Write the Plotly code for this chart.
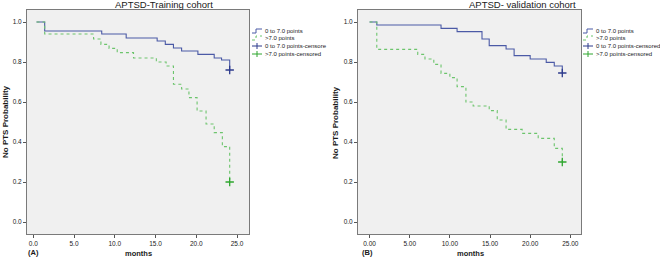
import plotly.graph_objects as go

# ---------------- data ----------------
train_low_t = [0.4, 1.4, 8.4, 11.4, 15.2, 16.2, 17.2, 18.2, 20.2, 22.2, 23.1, 24.1]
train_low_s = [1.0, 0.955, 0.94, 0.92, 0.905, 0.888, 0.87, 0.855, 0.838, 0.82, 0.81, 0.76]
train_high_t = [0.4, 1.4, 7.4, 8.3, 9.3, 10.3, 12.3, 15.1, 16.3, 17.2, 18.2, 19.1, 20.1, 21.2, 22.2, 23.2, 24.1]
train_high_s = [1.0, 0.94, 0.915, 0.888, 0.868, 0.847, 0.82, 0.80, 0.78, 0.689, 0.665, 0.622, 0.555, 0.49, 0.447, 0.377, 0.2]

valid_low_t = [0.0, 0.9, 8.9, 10.9, 14.0, 14.9, 17.0, 18.0, 20.0, 22.0, 23.0, 24.0]
valid_low_s = [1.0, 0.985, 0.968, 0.952, 0.915, 0.882, 0.865, 0.832, 0.815, 0.798, 0.78, 0.745]
valid_high_t = [0.0, 0.9, 6.0, 6.9, 8.0, 8.9, 10.0, 10.9, 12.0, 12.9, 14.9, 15.9, 17.0, 19.0, 21.0, 23.0, 24.0]
valid_high_s = [1.0, 0.863, 0.838, 0.815, 0.788, 0.743, 0.722, 0.677, 0.60, 0.58, 0.557, 0.51, 0.463, 0.443, 0.418, 0.368, 0.30]

y_ticks = [0.0, 0.2, 0.4, 0.6, 0.8, 1.0]
x_ticks = [0, 5, 10, 15, 20, 25]

titles = ["APTSD-Training cohort", "APTSD- validation cohort"]
legend_left = ["0 to 7.0 points", ">7.0 points", "0 to 7.0 points-censore", ">7.0 points-censored"]
legend_right = ["0 to 7.0 points", ">7.0 points", "0 to 7.0 points-censored", ">7.0 points-censored"]

# ---------------- style ----------------
W, H = 660, 259
BLUE = "#4b5aa6"
BLUE_M = "#2c3a8c"
GREEN = "#6cc46c"
GREEN_M = "#2ea62e"
TXT = "#1a1a1a"
FONT = "Liberation Sans, Arial, sans-serif"


def px(x):
    return x / W


def py(y):
    return 1 - y / H


fig = go.Figure()

panels = [
    dict(xa="x", ya="y", low=(train_low_t, train_low_s), high=(train_high_t, train_high_s)),
    dict(xa="x2", ya="y2", low=(valid_low_t, valid_low_s), high=(valid_high_t, valid_high_s)),
]

for p in panels:
    lt, ls = p["low"]
    ht, hs = p["high"]
    fig.add_trace(go.Scatter(x=lt, y=ls, mode="lines", line=dict(color=BLUE, width=1.1, shape="hv"),
                             xaxis=p["xa"], yaxis=p["ya"], showlegend=False, hoverinfo="skip"))
    fig.add_trace(go.Scatter(x=ht, y=hs, mode="lines", line=dict(color=GREEN, width=1.1, shape="hv", dash="dot"),
                             xaxis=p["xa"], yaxis=p["ya"], showlegend=False, hoverinfo="skip"))
    fig.add_trace(go.Scatter(x=[lt[-1]], y=[ls[-1]], mode="markers",
                             marker=dict(symbol="cross-thin", size=6, line=dict(color=BLUE_M, width=1.3)),
                             xaxis=p["xa"], yaxis=p["ya"], showlegend=False, hoverinfo="skip"))
    fig.add_trace(go.Scatter(x=[ht[-1]], y=[hs[-1]], mode="markers",
                             marker=dict(symbol="cross-thin", size=6, line=dict(color=GREEN_M, width=1.3)),
                             xaxis=p["xa"], yaxis=p["ya"], showlegend=False, hoverinfo="skip"))

axis_common = dict(showgrid=False, zeroline=False, showline=True, mirror=True, linecolor="#7a7a7a",
                   linewidth=1, ticks="outside", ticklen=3, tickcolor="#555",
                   tickfont=dict(size=6.5, color=TXT, family=FONT))

ydom = [py(234), py(10)]
fig.update_layout(
    width=W, height=H, margin=dict(l=0, r=0, t=0, b=0),
    paper_bgcolor="white", plot_bgcolor="#f0f0f0",
    font=dict(family=FONT, color=TXT),
    xaxis=dict(domain=[px(27), px(249)], range=[-0.77, 26.47], anchor="y",
               tickvals=x_ticks, ticktext=[f"{v:.1f}" for v in x_ticks], **axis_common),
    yaxis=dict(domain=ydom, range=[-0.06, 1.06], anchor="x",
               tickvals=y_ticks, ticktext=[f"{v:.1f}" for v in y_ticks], **axis_common),
    xaxis2=dict(domain=[px(358), px(581)], range=[-1.44, 26.33], anchor="y2",
                tickvals=x_ticks, ticktext=[f"{v:.2f}" for v in x_ticks], **axis_common),
    yaxis2=dict(domain=ydom, range=[-0.06, 1.06], anchor="x2",
                tickvals=y_ticks, ticktext=[f"{v:.1f}" for v in y_ticks], **axis_common),
)

ann = []
shapes = []

# titles
for cx, t in zip([164, 522], titles):
    ann.append(dict(x=px(cx), y=py(5), xref="paper", yref="paper", text=t, showarrow=False,
                    font=dict(size=9.5, color=TXT, family=FONT), xanchor="center", yanchor="middle"))
# axis titles
for cx in [6, 336]:
    ann.append(dict(x=px(cx), y=py(122), xref="paper", yref="paper", text="<b>No PTS Probability</b>",
                    showarrow=False, textangle=-90, font=dict(size=8, color=TXT, family=FONT),
                    xanchor="center", yanchor="middle"))
for cx in [138, 470]:
    ann.append(dict(x=px(cx), y=py(253), xref="paper", yref="paper", text="<b>months</b>", showarrow=False,
                    font=dict(size=7.5, color=TXT, family=FONT), xanchor="center", yanchor="middle"))
for cx, t in [(33, "(A)"), (367, "(B)")]:
    ann.append(dict(x=px(cx), y=py(252), xref="paper", yref="paper", text=f"<b>{t}</b>", showarrow=False,
                    font=dict(size=7.5, color=TXT, family=FONT), xanchor="center", yanchor="middle"))

# manual legends
rows = [31, 38, 46, 54]
for sx, labels in [(252, legend_left), (583, legend_right)]:
    y0 = rows[0]
    shapes.append(dict(type="path", xref="paper", yref="paper",
                       path=f"M {px(sx)},{py(y0+2)} L {px(sx+4)},{py(y0+2)} L {px(sx+4)},{py(y0-2)} L {px(sx+10)},{py(y0-2)}",
                       line=dict(color=BLUE, width=1)))
    y1 = rows[1]
    shapes.append(dict(type="path", xref="paper", yref="paper",
                       path=f"M {px(sx)},{py(y1+2)} L {px(sx+4)},{py(y1+2)} L {px(sx+4)},{py(y1-2)} L {px(sx+10)},{py(y1-2)}",
                       line=dict(color=GREEN, width=1, dash="dot")))
    for yy, col in [(rows[2], BLUE_M), (rows[3], GREEN_M)]:
        shapes.append(dict(type="line", xref="paper", yref="paper", x0=px(sx), x1=px(sx+10),
                           y0=py(yy), y1=py(yy), line=dict(color=col, width=1)))
        shapes.append(dict(type="line", xref="paper", yref="paper", x0=px(sx+5), x1=px(sx+5),
                           y0=py(yy-3), y1=py(yy+3), line=dict(color=col, width=1)))
    for yy, lab in zip(rows, labels):
        ann.append(dict(x=px(sx + 11), y=py(yy), xref="paper", yref="paper", text=lab, showarrow=False,
                        font=dict(size=6, color=TXT, family=FONT), xanchor="left", yanchor="middle"))

fig.update_layout(annotations=ann, shapes=shapes)

fig.write_html("out.html", config={"displayModeBar": False},
               post_script="document.body.style.margin='0';")
